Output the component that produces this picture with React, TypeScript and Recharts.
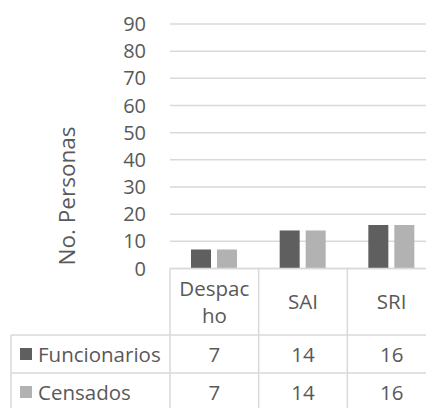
import { BarChart, Bar, XAxis, YAxis, CartesianGrid, Customized } from 'recharts';

const categories = ['Despacho', 'SAI', 'SRI'];
const seriesNames = ['Funcionarios', 'Censados'];
const funcionarios = [7, 14, 16];
const censados = [7, 14, 16];
const yTicks = [0, 10, 20, 30, 40, 50, 60, 70, 80, 90];

const seriesValues = [funcionarios, censados];
const seriesColors = ['#5f5f5f', '#b2b2b2'];

const data = categories.map((c, i) => ({
  name: c,
  funcionarios: funcionarios[i],
  censados: censados[i],
}));

const W = 436;
const H = 420;
const LEFT = 170;
const TOP = 24;
const AXIS_Y = 268.5;
const BAND = (W - LEFT) / categories.length;
const ROW1 = 335;
const ROW_H = 38;
const FONT = '"Open Sans", sans-serif';
const TEXT = '#595959';
const LINE = '#d9d9d9';
const FS = 20.5;

// splits a long category name the way the cell wraps it
function wrap(label: string): string[] {
  if (label.length <= 6) return [label];
  const out: string[] = [];
  for (let i = 0; i < label.length; i += 6) out.push(label.slice(i, i + 6));
  return out;
}

function TableTick(props: any) {
  const { x, y, payload, index } = props;
  const lines = wrap(String(payload.value));
  const headerMid = (y + ROW1) / 2;
  const lh = 27;
  const first = headerMid - ((lines.length - 1) * lh) / 2 + 7.5;
  const left = x - BAND / 2;
  const right = x + BAND / 2;
  return (
    <g>
      <line x1={left} y1={y} x2={left} y2={H} stroke={LINE} strokeWidth={1.5} />
      {index === categories.length - 1 && (
        <line x1={right} y1={y} x2={right} y2={H} stroke={LINE} strokeWidth={1.5} />
      )}
      {lines.map((l, k) => (
        <text key={k} x={x} y={first + k * lh} textAnchor="middle" fill={TEXT} fontSize={FS} fontFamily={FONT}>
          {l}
        </text>
      ))}
      {seriesValues.map((vals, r) => (
        <text
          key={'v' + r}
          x={x}
          y={ROW1 + r * ROW_H + ROW_H / 2 + 7.5}
          textAnchor="middle"
          fill={TEXT}
          fontSize={FS}
          fontFamily={FONT}
        >
          {vals[payload.index ?? index]}
        </text>
      ))}
    </g>
  );
}

function TableFrame() {
  return (
    <g>
      <line x1={11} y1={ROW1} x2={11} y2={H} stroke={LINE} strokeWidth={1.5} />
      {seriesNames.map((_, r) => (
        <line key={'h' + r} x1={11} y1={ROW1 + r * ROW_H} x2={W} y2={ROW1 + r * ROW_H} stroke={LINE} strokeWidth={1.5} />
      ))}
      {seriesNames.map((s, r) => {
        const mid = ROW1 + r * ROW_H + ROW_H / 2;
        return (
          <g key={s}>
            <rect x={20} y={mid - 6} width={12} height={12} fill={seriesColors[r]} />
            <text x={38} y={mid + 7.5} fill={TEXT} fontSize={FS} fontFamily={FONT}>
              {s}
            </text>
          </g>
        );
      })}
      <text
        x={66}
        y={196}
        transform="rotate(-90 66 196)"
        textAnchor="middle"
        dominantBaseline="central"
        fill={TEXT}
        fontSize={22.5}
        fontFamily={FONT}
      >
        No. Personas
      </text>
    </g>
  );
}

export default function App() {
  return (
    <div style={{ position: 'absolute', left: 0, top: 0, width: 426, height: 408, overflow: 'hidden', background: '#fff' }}>
      <BarChart
        width={W}
        height={H}
        data={data}
        margin={{ top: TOP, right: 0, bottom: 0, left: 0 }}
        barSize={20}
        barGap={6}
      >
        <CartesianGrid vertical={false} stroke={LINE} strokeWidth={1.5} />
        <XAxis
          dataKey="name"
          height={H - AXIS_Y}
          interval={0}
          tickLine={false}
          tickSize={0}
          tickMargin={0}
          axisLine={{ stroke: LINE, strokeWidth: 1.5 }}
          tick={<TableTick />}
        />
        <YAxis
          width={LEFT}
          domain={[0, 90]}
          ticks={yTicks}
          interval={0}
          axisLine={false}
          tickLine={false}
          tickSize={0}
          tickMargin={24}
          tick={{ fill: TEXT, fontSize: 20, fontFamily: FONT }}
        />
        <Bar dataKey="funcionarios" name={seriesNames[0]} fill={seriesColors[0]} isAnimationActive={false} />
        <Bar dataKey="censados" name={seriesNames[1]} fill={seriesColors[1]} isAnimationActive={false} />
        <Customized component={TableFrame} />
      </BarChart>
    </div>
  );
}
